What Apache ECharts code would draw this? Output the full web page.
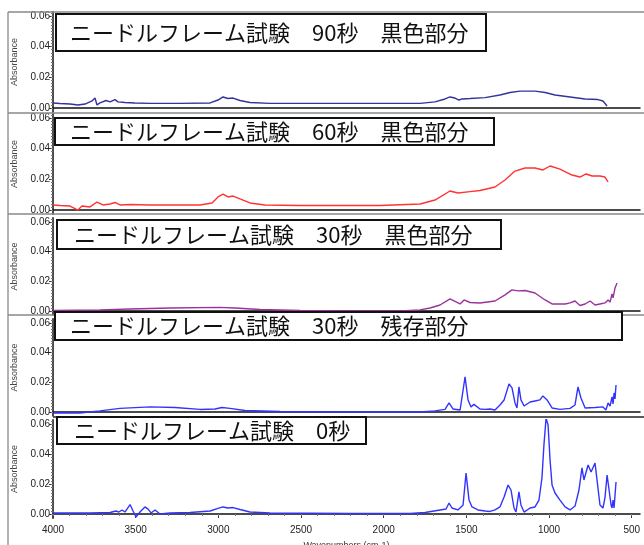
<!DOCTYPE html>
<html><head><meta charset="utf-8">
<script src="https://cdn.jsdelivr.net/npm/echarts@6/dist/echarts.min.js"></script>
<style>html,body{margin:0;padding:0;background:#fff}#c{width:644px;height:545px}</style>
</head><body><div id="c"></div>
<script>
// ---- data ----
const titles = [
  'ニードルフレーム試験\u300090秒\u3000黒色部分',
  'ニードルフレーム試験\u300060秒\u3000黒色部分',
  'ニードルフレーム試験\u300030秒\u3000黒色部分',
  'ニードルフレーム試験\u300030秒\u3000残存部分',
  'ニードルフレーム試験\u30000秒'
];
const xTickLabels = [4000, 3500, 3000, 2500, 2000, 1500, 1000, 500];
const yTickLabels = [0.00, 0.02, 0.04, 0.06];

const wn90 = [4000,3958,3897,3849,3806,3764,3746,3734,3716,3679,3655,3625,3607,3565,3504,3413,3232,3050,3002,2972,2942,2911,2869,2809,2688,2385,2022,1780,1690,1629,1599,1569,1545,1526,1478,1387,1297,1236,1176,1085,1024,964,873,782,704,674,649];
const ab90 = [0.0033,0.0029,0.0026,0.0020,0.0026,0.0046,0.0065,0.0020,0.0033,0.0049,0.0040,0.0055,0.0040,0.0036,0.0033,0.0030,0.0030,0.0033,0.0052,0.0072,0.0062,0.0065,0.0049,0.0036,0.0030,0.0030,0.0030,0.0030,0.0040,0.0059,0.0072,0.0065,0.0052,0.0059,0.0062,0.0068,0.0085,0.0101,0.0110,0.0110,0.0101,0.0085,0.0072,0.0059,0.0055,0.0046,0.0013];

const wn60 = [4000,3958,3897,3849,3825,3776,3734,3722,3698,3655,3625,3595,3534,3413,3111,3038,3002,2972,2942,2911,2869,2809,2718,2506,2022,1780,1690,1599,1551,1478,1418,1327,1266,1206,1145,1085,1037,994,934,861,813,776,740,692,662,643];
const ab60 = [0.0033,0.0029,0.0026,0.0000,0.0026,0.0020,0.0052,0.0065,0.0033,0.0039,0.0049,0.0033,0.0036,0.0033,0.0033,0.0046,0.0085,0.0104,0.0085,0.0091,0.0072,0.0046,0.0033,0.0029,0.0029,0.0039,0.0065,0.0124,0.0111,0.0120,0.0127,0.0150,0.0196,0.0254,0.0274,0.0274,0.0261,0.0287,0.0267,0.0228,0.0215,0.0235,0.0222,0.0222,0.0215,0.0183];

const wn30b = [4000,3716,3534,3292,2990,2899,2748,2506,2204,1901,1780,1720,1659,1599,1538,1514,1478,1418,1327,1266,1224,1188,1145,1085,1024,982,903,873,843,813,782,752,722,692,662,643,631,619,613,601,595,589];
const ab30b = [0.0003,0.0007,0.0013,0.0020,0.0024,0.0020,0.0010,0.0003,0.0000,0.0000,0.0007,0.0020,0.0040,0.0081,0.0047,0.0074,0.0057,0.0054,0.0067,0.0108,0.0142,0.0135,0.0138,0.0121,0.0074,0.0047,0.0047,0.0054,0.0067,0.0037,0.0047,0.0067,0.0040,0.0047,0.0054,0.0074,0.0060,0.0115,0.0088,0.0155,0.0142,0.0189];

const wn30r = [4000,3837,3716,3595,3413,3262,3111,3020,2978,2930,2839,2627,2204,1780,1690,1629,1605,1581,1538,1508,1490,1472,1454,1418,1387,1357,1327,1297,1272,1242,1224,1206,1194,1182,1170,1151,1115,1085,1055,1037,1012,982,934,873,843,825,807,782,722,674,656,643,631,619,613,607,601,595];
const ab30r = [-0.0007,-0.0007,0.0007,0.0024,0.0034,0.0030,0.0017,0.0020,0.0030,0.0024,0.0010,0.0003,0.0000,0.0000,0.0007,0.0017,0.0061,0.0020,0.0013,0.0236,0.0081,0.0034,0.0051,0.0020,0.0017,0.0020,0.0013,0.0047,0.0081,0.0189,0.0162,0.0061,0.0027,0.0169,0.0081,0.0040,0.0067,0.0074,0.0081,0.0108,0.0081,0.0027,0.0017,0.0024,0.0047,0.0169,0.0094,0.0027,0.0030,0.0034,0.0013,0.0061,0.0040,0.0101,0.0054,0.0128,0.0088,0.0182];

const wn0 = [4000,3776,3655,3619,3601,3583,3565,3534,3516,3498,3474,3444,3425,3407,3383,3353,3292,3171,3050,3002,2972,2942,2911,2869,2809,2688,2204,1841,1750,1659,1623,1605,1587,1551,1520,1502,1484,1466,1454,1430,1387,1357,1327,1297,1272,1248,1230,1212,1200,1182,1170,1151,1115,1085,1061,1043,1031,1018,1006,994,982,964,952,934,903,873,843,819,801,789,764,746,722,710,692,674,662,649,637,625,619,613,607,601,595];
const ab0 = [0.0007,0.0007,0.0010,0.0020,0.0013,0.0027,0.0013,0.0063,0.0020,-0.0020,0.0013,0.0047,0.0033,0.0007,0.0027,0.0000,0.0007,0.0010,0.0020,0.0037,0.0047,0.0040,0.0043,0.0030,0.0013,0.0007,0.0003,0.0003,0.0010,0.0027,0.0033,0.0073,0.0040,0.0027,0.0060,0.0273,0.0093,0.0047,0.0060,0.0027,0.0020,0.0017,0.0027,0.0047,0.0113,0.0193,0.0160,0.0040,0.0013,0.0147,0.0060,0.0013,0.0040,0.0047,0.0093,0.0240,0.0460,0.0640,0.0593,0.0360,0.0193,0.0140,0.0133,0.0093,0.0047,0.0027,0.0053,0.0160,0.0307,0.0227,0.0327,0.0280,0.0340,0.0227,0.0060,0.0040,0.0107,0.0260,0.0160,0.0060,0.0040,0.0093,0.0040,0.0127,0.0213];

const seriesWn = [wn90, wn60, wn30b, wn30r, wn0];
const seriesAb = [ab90, ab60, ab30b, ab30r, ab0];
const colors = ['#333399', '#ff3333', '#993399', '#3333ff', '#3333ff'];

// ---- layout ----
const panels = [
  {top: 11.7, h: 100.6}, {top: 113.7, h: 100.6}, {top: 217.8, h: 97.3},
  {top: 318.8, h: 97.3}, {top: 419.8, h: 98.4}
];
const boxes = [
  {x: 56, y: 14, w: 430, h: 37, tx: 70},
  {x: 55, y: 118, w: 439, h: 27, tx: 70},
  {x: 57, y: 220, w: 444, h: 29, tx: 74},
  {x: 55, y: 312, w: 567, h: 28, tx: 70},
  {x: 57, y: 417, w: 309, h: 27, tx: 74}
];
const yMin = -0.0028, yMax = 0.0628, xMin = 450, xMax = 4000;
const xMinor = []; for (let v = 500; v <= 4000; v += 100) xMinor.push(v);
const yMinor = []; for (let k = 0; k <= 31; k++) yMinor.push(+(k * 0.002).toFixed(3));

const grid = [], xAxis = [], yAxis = [], series = [];
panels.forEach((p, i) => {
  grid.push({left: 53, width: 587, top: p.top, height: p.h, outerBoundsMode: 'none', containLabel: false});
  const last = i === 4;
  xAxis.push({
    type: 'value', gridIndex: i, inverse: true, min: xMin, max: xMax,
    axisLine: {show: true, lineStyle: {color: '#111', width: 1.5}},
    axisTick: {show: last, customValues: xTickLabels, length: 4, lineStyle: {color: '#333'}},
    axisLabel: {show: last, customValues: xTickLabels, fontSize: 10, color: '#222', margin: 7,
      fontFamily: 'Liberation Sans', formatter: v => String(Math.round(v))},
    splitLine: {show: false},
    name: last ? 'Wavenumbers (cm-1)' : '', nameLocation: 'middle', nameGap: 23,
    nameTextStyle: {fontSize: 9, color: '#333', fontFamily: 'Liberation Sans'}
  });
  xAxis.push({
    type: 'value', gridIndex: i, inverse: true, min: xMin, max: xMax, position: 'bottom',
    axisLine: {show: false},
    axisTick: {show: last, customValues: xMinor, length: 2, lineStyle: {color: '#777'}},
    axisLabel: {show: false}, splitLine: {show: false}
  });
  yAxis.push({
    type: 'value', gridIndex: i, min: yMin, max: yMax, position: 'left',
    axisLine: {show: true, lineStyle: {color: '#111', width: 1.5}},
    axisTick: {show: true, customValues: yTickLabels, length: 4, lineStyle: {color: '#333'}},
    axisLabel: {show: true, customValues: yTickLabels, fontSize: 10, color: '#222', margin: 3,
      fontFamily: 'Liberation Sans', formatter: v => v.toFixed(2)},
    splitLine: {show: false},
    name: 'Absorbance', nameLocation: 'middle', nameGap: 34,
    nameTextStyle: {fontSize: 9, color: '#444', fontFamily: 'Liberation Sans'}
  });
  yAxis.push({
    type: 'value', gridIndex: i, min: yMin, max: yMax, position: 'left',
    axisLine: {show: false},
    axisTick: {show: true, customValues: yMinor, length: 2, lineStyle: {color: '#777'}},
    axisLabel: {show: false}, splitLine: {show: false}
  });
  series.push({
    type: 'line', xAxisIndex: 2 * i, yAxisIndex: 2 * i, showSymbol: false, silent: true,
    clip: true, lineStyle: {color: colors[i], width: 1.4}, itemStyle: {color: colors[i]},
    data: seriesWn[i].map((w, j) => [w, seriesAb[i][j]])
  });
});

const graphic = [];
// outer gray panel frames
graphic.push({type: 'line', shape: {x1: 8, y1: 12, x2: 8, y2: 545}, style: {stroke: '#999', lineWidth: 1.5}, z: 10});
[12, 113, 214, 315].forEach(y => graphic.push({type: 'line', shape: {x1: 8, y1: y, x2: 644, y2: y}, style: {stroke: '#888', lineWidth: 1.5}, z: 10}));
graphic.push({type: 'line', shape: {x1: 53, y1: 417, x2: 644, y2: 417}, style: {stroke: '#222', lineWidth: 1.5}, z: 10});
boxes.forEach((b, i) => {
  graphic.push({type: 'rect', shape: {x: b.x, y: b.y, width: b.w, height: b.h},
    style: {fill: '#fff', stroke: '#111', lineWidth: 2}, z: 20});
  graphic.push({type: 'text', x: b.tx, y: b.y + b.h / 2, z: 21,
    style: {text: titles[i], font: '22px "Noto Sans CJK JP"', fill: '#111', textVerticalAlign: 'middle'}});
});

const chart = echarts.init(document.getElementById('c'), null, {renderer: 'canvas'});
chart.setOption({animation: false, backgroundColor: '#fff', grid, xAxis, yAxis, series, graphic});
</script></body></html>
